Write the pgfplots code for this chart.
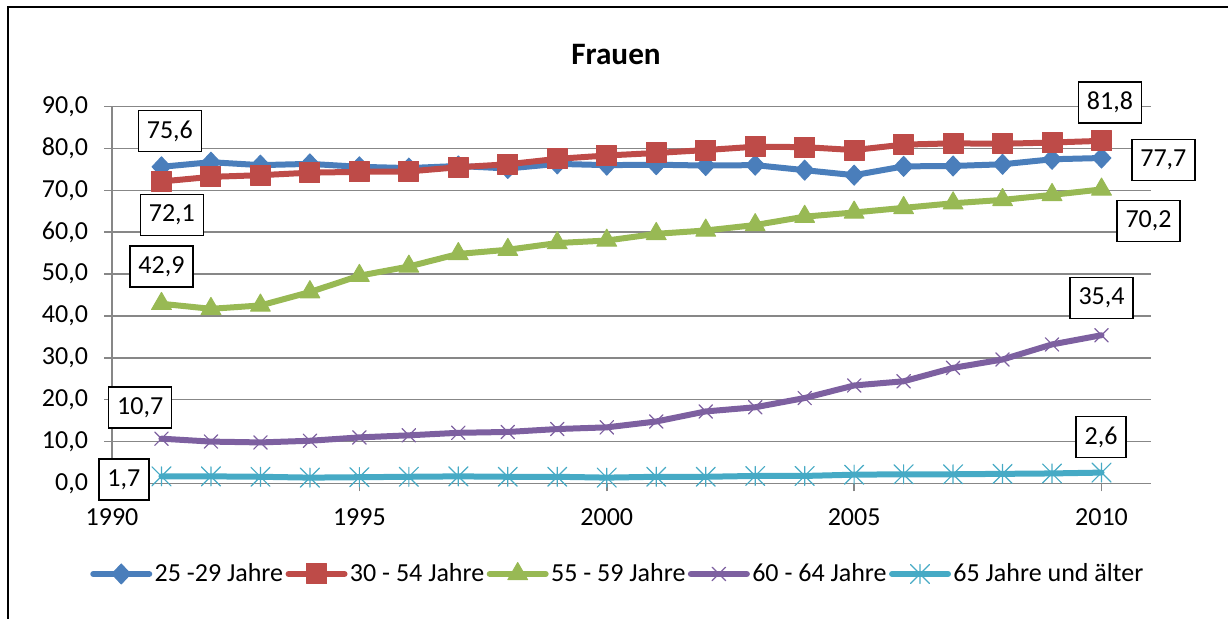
\documentclass[border=0pt]{standalone}
\usepackage{fontspec}
\setmainfont{Carlito}
\usepackage{pgfplots}
\usepackage{pgfplotstable}
\pgfplotsset{compat=1.18}
\definecolor{sblue}{HTML}{4A7EBB}
\definecolor{sred}{HTML}{BE4B48}
\definecolor{sgreen}{HTML}{98B954}
\definecolor{spurple}{HTML}{7D60A0}
\definecolor{scyan}{HTML}{46AAC5}
\definecolor{gridgray}{HTML}{878787}

% Excel-like star: an x with a vertical bar
\pgfdeclareplotmark{xstar}{%
  \pgfpathmoveto{\pgfqpoint{-\pgfplotmarksize}{-\pgfplotmarksize}}%
  \pgfpathlineto{\pgfqpoint{\pgfplotmarksize}{\pgfplotmarksize}}%
  \pgfpathmoveto{\pgfqpoint{-\pgfplotmarksize}{\pgfplotmarksize}}%
  \pgfpathlineto{\pgfqpoint{\pgfplotmarksize}{-\pgfplotmarksize}}%
  \pgfpathmoveto{\pgfqpoint{0pt}{-\pgfplotmarksize}}%
  \pgfpathlineto{\pgfqpoint{0pt}{\pgfplotmarksize}}%
  \pgfusepathqstroke}

\pgfplotstableread{
year  a2529 a3054 a5559 a6064 a65
1991  75.6  72.1  42.9  10.7  1.7
1992  76.7  73.2  41.7  10.0  1.7
1993  76.0  73.6  42.5   9.8  1.6
1994  76.3  74.2  45.7  10.2  1.4
1995  75.6  74.4  49.6  11.0  1.5
1996  75.3  74.5  51.8  11.5  1.6
1997  75.8  75.5  54.8  12.1  1.7
1998  75.2  76.2  55.8  12.3  1.6
1999  76.3  77.5  57.4  13.0  1.6
2000  76.0  78.3  58.0  13.4  1.4
2001  76.1  78.9  59.6  14.8  1.6
2002  75.9  79.6  60.4  17.2  1.6
2003  76.0  80.4  61.7  18.2  1.8
2004  74.8  80.3  63.7  20.4  1.8
2005  73.6  79.6  64.7  23.4  2.1
2006  75.7  80.9  65.8  24.4  2.2
2007  75.8  81.2  66.9  27.6  2.2
2008  76.2  81.1  67.7  29.6  2.3
2009  77.4  81.4  68.9  33.2  2.4
2010  77.7  81.8  70.2  35.4  2.6
}\quoten

\tikzset{
  lbl/.style={draw=black, line width=0.75pt, fill=white, inner xsep=4.25pt,
    inner ysep=0pt, minimum height=20.5pt, font=\fontsize{13}{15}\selectfont},
  serie/.style={line width=3pt, line join=round, line cap=round},
}

\begin{document}
\begin{tikzpicture}[x=1pt,y=1pt]
\path[use as bounding box] (0,0) rectangle (614,309.5);
\draw[line width=1pt] (4,-20) -- (4,306) -- (640,306);
\node[font=\fontsize{15.6}{18}\selectfont\bfseries] at (308,282) {Frauen};
\begin{axis}[
  at={(56pt,67.75pt)}, anchor=south west, scale only axis,
  width=519.5pt, height=188.5pt,
  xmin=1990, xmax=2011, ymin=0, ymax=90, clip=false,
  axis lines*=left,
  axis line style={draw=gridgray, line width=0.75pt},
  xtick={1990,1995,...,2010}, ytick={0,10,...,90},
  ymajorgrids, grid style={draw=gridgray, line width=0.75pt},
  tick align=outside, major tick length=4pt,
  tick style={draw=gridgray, line width=0.75pt},
  tick label style={font=\fontsize{13}{15}\selectfont},
  /pgf/number format/assume math mode=true,
  xticklabel style={/pgf/number format/1000 sep={}, yshift=-5pt},
  yticklabel style={/pgf/number format/.cd, fixed, fixed zerofill, precision=1, use comma,
    /tikz/.cd, xshift=-4.5pt},
  legend style={at={(0.487,-0.24)}, anchor=center, draw=none, fill=none,
    legend columns=5, font=\fontsize{13}{15}\selectfont,
    /tikz/every even column/.append style={column sep=0pt},
    nodes={inner xsep=1.2pt}},
  legend image code/.code={%
    \draw[mark repeat=2, mark phase=2, #1] plot coordinates {(0pt,0pt) (14pt,0pt) (28pt,0pt)};},
]
\addplot[serie, sblue, mark=diamond*, mark size=5pt,
  mark options={solid, line width=0.5pt, xscale=1.25}] table[x=year, y=a2529] {\quoten};
\addplot[serie, sred, mark=square*, mark size=5pt,
  mark options={solid, line width=0.5pt}] table[x=year, y=a3054] {\quoten};
\addplot[serie, sgreen, mark=triangle*, mark size=5.7pt,
  mark options={solid, line width=0.5pt}] table[x=year, y=a5559] {\quoten};
\addplot[serie, spurple, mark=x, mark size=4.75pt,
  mark options={solid, line width=0.6pt}] table[x=year, y=a6064] {\quoten};
\addplot[serie, scyan, mark=xstar, mark size=4.75pt,
  mark options={solid, line width=0.6pt}] table[x=year, y=a65] {\quoten};
\legend{25 -29 Jahre, 30 - 54 Jahre, 55 - 59 Jahre, 60 - 64 Jahre, 65 Jahre und älter}

\node[lbl] at (axis cs:1991.17,84.15) {75,6};
\node[lbl] at (axis cs:1991.21,64.1) {72,1};
\node[lbl] at (axis cs:1991.0,51.8) {42,9};
\node[lbl] at (axis cs:1990.57,18.2) {10,7};
\node[lbl] at (axis cs:1990.24,0.95) {1,7};
\node[lbl] at (axis cs:2010.17,91.0) {81,8};
\node[lbl] at (axis cs:2011.25,77.2) {77,7};
\node[lbl] at (axis cs:2010.95,62.7) {70,2};
\node[lbl] at (axis cs:2010.0,44.3) {35,4};
\node[lbl] at (axis cs:2009.99,11.1) {2,6};
\end{axis}
\end{tikzpicture}
\end{document}
